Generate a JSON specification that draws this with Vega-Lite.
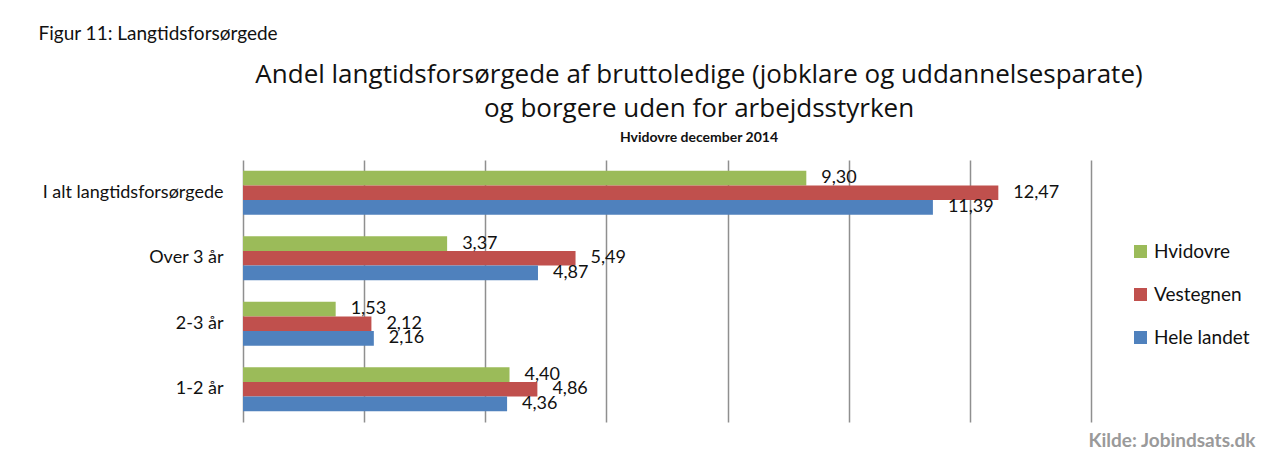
{
  "$schema": "https://vega.github.io/schema/vega-lite/v6.json",
  "autosize": "none",
  "width": 848,
  "height": 262,
  "padding": {"left": 243, "top": 160, "right": 184, "bottom": 30},
  "background": "white",
  "title": {
    "text": ["Andel langtidsforsørgede af bruttoledige (jobklare og uddannelsesparate)", "og borgere uden for arbejdsstyrken"],
    "subtitle": "Hvidovre december 2014",
    "anchor": "middle",
    "dx": 32,
    "offset": -121,
    "font": "Open Sans",
    "fontSize": 26,
    "fontWeight": "normal",
    "lineHeight": 34,
    "color": "#111111",
    "subtitleFont": "Lato",
    "subtitleFontSize": 14,
    "subtitleFontWeight": "bold",
    "subtitleColor": "#111111",
    "subtitlePadding": 9
  },
  "data": {
    "values": [
      {"kategori": "I alt langtidsforsørgede", "serie": "Hvidovre", "andel": 9.30},
      {"kategori": "I alt langtidsforsørgede", "serie": "Vestegnen", "andel": 12.47},
      {"kategori": "I alt langtidsforsørgede", "serie": "Hele landet", "andel": 11.39},
      {"kategori": "Over 3 år", "serie": "Hvidovre", "andel": 3.37},
      {"kategori": "Over 3 år", "serie": "Vestegnen", "andel": 5.49},
      {"kategori": "Over 3 år", "serie": "Hele landet", "andel": 4.87},
      {"kategori": "2-3 år", "serie": "Hvidovre", "andel": 1.53},
      {"kategori": "2-3 år", "serie": "Vestegnen", "andel": 2.12},
      {"kategori": "2-3 år", "serie": "Hele landet", "andel": 2.16},
      {"kategori": "1-2 år", "serie": "Hvidovre", "andel": 4.40},
      {"kategori": "1-2 år", "serie": "Vestegnen", "andel": 4.86},
      {"kategori": "1-2 år", "serie": "Hele landet", "andel": 4.36}
    ]
  },
  "encoding": {
    "y": {
      "field": "kategori",
      "type": "nominal",
      "sort": ["I alt langtidsforsørgede", "Over 3 år", "2-3 år", "1-2 år"],
      "scale": {"paddingInner": 0.33, "paddingOuter": 0.165},
      "axis": {
        "title": "Figur 11: Langtidsforsørgede",
        "titleAngle": 0,
        "titleX": -205,
        "titleY": -127,
        "titleAlign": "left",
        "titleBaseline": "middle",
        "titleFont": "Lato",
        "titleFontSize": 19,
        "titleFontWeight": "normal",
        "titleColor": "#111111",
        "labelFont": "Lato",
        "labelFontSize": 18,
        "labelLimit": 400,
        "labelColor": "#111111",
        "labelPadding": 20,
        "ticks": false,
        "domain": false,
        "grid": false
      }
    },
    "yOffset": {
      "field": "serie",
      "type": "nominal",
      "sort": ["Hvidovre", "Vestegnen", "Hele landet"]
    },
    "x": {
      "field": "andel",
      "type": "quantitative",
      "scale": {"domain": [0, 14], "nice": false},
      "axis": {
        "title": "Kilde: Jobindsats.dk",
        "titleX": 1012,
        "titleY": 18,
        "titleAlign": "right",
        "titleBaseline": "middle",
        "titleFont": "Lato",
        "titleFontSize": 19,
        "titleFontWeight": "bold",
        "titleColor": "#9a9a9a",
        "values": [0, 2, 4, 6, 8, 10, 12, 14],
        "labels": false,
        "ticks": false,
        "domain": false,
        "grid": true,
        "gridColor": "#8f8f8f",
        "gridWidth": 1.5
      }
    }
  },
  "layer": [
    {
      "mark": {"type": "bar"},
      "encoding": {
        "color": {
          "field": "serie",
          "type": "nominal",
          "sort": ["Hvidovre", "Vestegnen", "Hele landet"],
          "scale": {"domain": ["Hvidovre", "Vestegnen", "Hele landet"], "range": ["#9BBB59", "#C0504D", "#4F81BD"]},
          "legend": {
            "title": null,
            "orient": "none",
            "legendX": 888,
            "legendY": 82,
            "symbolType": "square",
            "symbolSize": 169,
            "symbolStrokeWidth": 0,
            "labelFont": "Lato",
            "labelFontSize": 19,
            "labelColor": "#111111",
            "labelOffset": 4,
            "rowPadding": 23
          }
        }
      }
    },
    {
      "mark": {"type": "text", "align": "left", "baseline": "middle", "dx": 15, "font": "Lato", "fontSize": 18, "color": "#111111"},
      "encoding": {
        "text": {"field": "andel", "type": "quantitative", "format": ".2f"}
      }
    }
  ],
  "config": {
    "view": {"stroke": null},
    "locale": {"number": {"decimal": ",", "thousands": ".", "grouping": [3], "currency": ["", " kr."]}}
  }
}
